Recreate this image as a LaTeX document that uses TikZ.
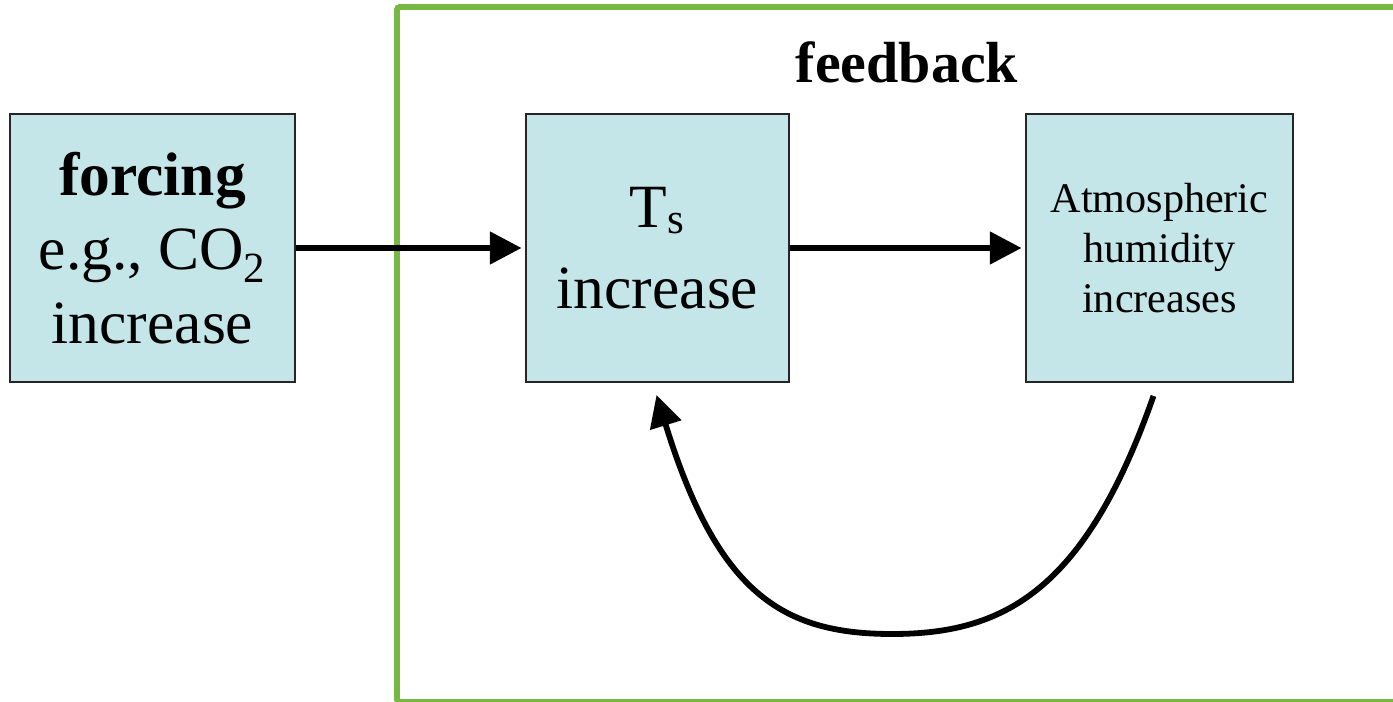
\documentclass[tikz,border=0pt]{standalone}
\usepackage{fontspec}
\setmainfont{Liberation Serif}
\usetikzlibrary{arrows.meta, positioning, calc}
\definecolor{boxfill}{HTML}{C5E6E9}
\definecolor{loopgreen}{HTML}{77B843}

\begin{document}
\begin{tikzpicture}[x=0.02cm, y=-0.02cm,
    flowbox/.style={draw=black!85, line width=1.1pt, fill=boxfill, minimum height=5.36cm, align=center, inner sep=0pt},
    flowarrow/.style={line width=3.3pt, -{Triangle[length=18pt, width=18pt]}, shorten >=2pt}]
    \useasboundingbox (0,0) rectangle (1393,702);

    % Feedback frame
    \draw[loopgreen, line width=3.3pt, rounded corners=1.5pt] (397,7) rectangle (1430,702);
    \node[anchor=base, font=\bfseries\fontsize{33}{40}\selectfont] (fbtitle) at (907,83) {feedback};

    % Boxes
    \node[flowbox, minimum width=5.7cm, font=\fontsize{35}{42}\selectfont] (forcing) at (152.5,248)
        {\textbf{forcing}\\e.g., CO\textsubscript{2}\\increase};
    \node[flowbox, minimum width=5.26cm, font=\fontsize{35}{46}\selectfont] (ts) at (657.5,248)
        {T\textsubscript{s}\\increase};
    \node[flowbox, minimum width=5.34cm, font=\fontsize{24}{28.5}\selectfont] (humid) at (1159.5,248)
        {Atmospheric\\humidity\\increases};

    % Straight arrows
    \draw[flowarrow] (forcing) -- (ts);
    \draw[flowarrow] (ts) -- (humid);

    % Loop back
    \coordinate (loopbottom) at (892,634);
    \draw[flowarrow, shorten >=0pt] ($(humid.south)+(-6,13)$)
        .. controls ($(humid.south)+(-75,210)$) and ($(loopbottom)+(110,0)$) .. (loopbottom)
        .. controls ($(loopbottom)+(-110,0)$) and ($(ts.south)+(60,210)$) .. ($(ts.south)+(-1,12)$);
\end{tikzpicture}
\end{document}
